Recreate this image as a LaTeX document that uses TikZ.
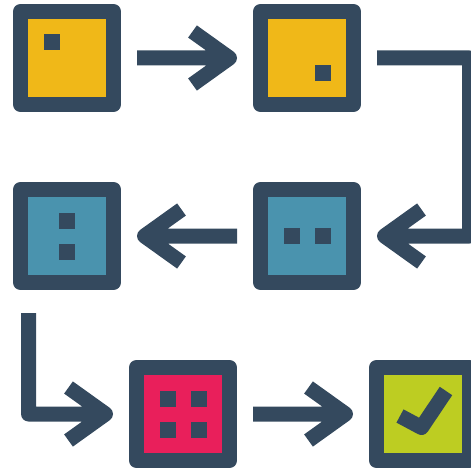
\documentclass[tikz,border=0pt]{standalone}
\usetikzlibrary{positioning}

\definecolor{navy}{HTML}{34495E}
\definecolor{tileyellow}{HTML}{F0B818}
\definecolor{tileteal}{HTML}{4A93AE}
\definecolor{tilepink}{HTML}{E91F5B}
\definecolor{tilelime}{HTML}{BDCD22}

\begin{document}
\begin{tikzpicture}
[
x=1pt, y=-1pt
, tile/.style={rectangle, draw=navy, line width=15pt, line join=round, minimum size=93pt, inner sep=0pt, outer sep=0pt}
, flow/.style={draw=navy, line width=15pt, line join=round, line cap=butt}
]

\useasboundingbox (0,0) rectangle (471,468);
\clip (0,0) rectangle (471,468);

% tiles
\node[tile, fill=tileyellow] (one) at (67,58) {};
\node[tile, fill=tileyellow, right=147pt of one] (two) {};
\node[tile, fill=tileteal, below=85pt of two] (three) {};
\node[tile, fill=tileteal, left=147pt of three] (four) {};
\node[tile, fill=tilepink, below right=85pt and 23pt of four] (five) {};
\node[tile, fill=tilelime, right=147pt of five] (six) {};

% dots
\fill[navy] ([shift={(-15.5,-15.5)}]one.center) +(-8,-8) rectangle +(8,8);
\fill[navy] ([shift={(15.5,15.5)}]two.center) +(-8,-8) rectangle +(8,8);
\fill[navy] ([shift={(-15.5,0)}]three.center) +(-8,-8) rectangle +(8,8);
\fill[navy] ([shift={(15.5,0)}]three.center) +(-8,-8) rectangle +(8,8);
\fill[navy] ([shift={(0,-15.5)}]four.center) +(-8,-8) rectangle +(8,8);
\fill[navy] ([shift={(0,15.5)}]four.center) +(-8,-8) rectangle +(8,8);
\fill[navy] ([shift={(-15.5,-15.5)}]five.center) +(-8,-8) rectangle +(8,8);
\fill[navy] ([shift={(15.5,-15.5)}]five.center) +(-8,-8) rectangle +(8,8);
\fill[navy] ([shift={(-15.5,15.5)}]five.center) +(-8,-8) rectangle +(8,8);
\fill[navy] ([shift={(15.5,15.5)}]five.center) +(-8,-8) rectangle +(8,8);

% check mark
\draw[flow] ([shift={(-23,2)}]six.center) -- ([shift={(-1.5,13.5)}]six.center) -- ([shift={(23,-23)}]six.center);

% arrows
\draw[flow] ([xshift=23.5pt]one.east) -- ([xshift=-31pt]two.west) ++(-37,-26.5) -- ++(37,26.5) -- ++(-37,26.5);
\draw[flow] ([xshift=23.5pt]two.east) -| ([xshift=116pt]three.east) -- ([xshift=31pt]three.east) ++(37,-26.5) -- ++(-37,26.5) -- ++(37,26.5);
\draw[flow] ([xshift=-23.5pt]three.west) -- ([xshift=31pt]four.east) ++(37,-26.5) -- ++(-37,26.5) -- ++(37,26.5);
\draw[flow] ([shift={(-38.5,30.5)}]four.south) |- ([xshift=-31pt]five.west) ++(-37,-26.5) -- ++(37,26.5) -- ++(-37,26.5);
\draw[flow] ([xshift=23.5pt]five.east) -- ([xshift=-31pt]six.west) ++(-37,-26.5) -- ++(37,26.5) -- ++(-37,26.5);

\end{tikzpicture}
\end{document}
